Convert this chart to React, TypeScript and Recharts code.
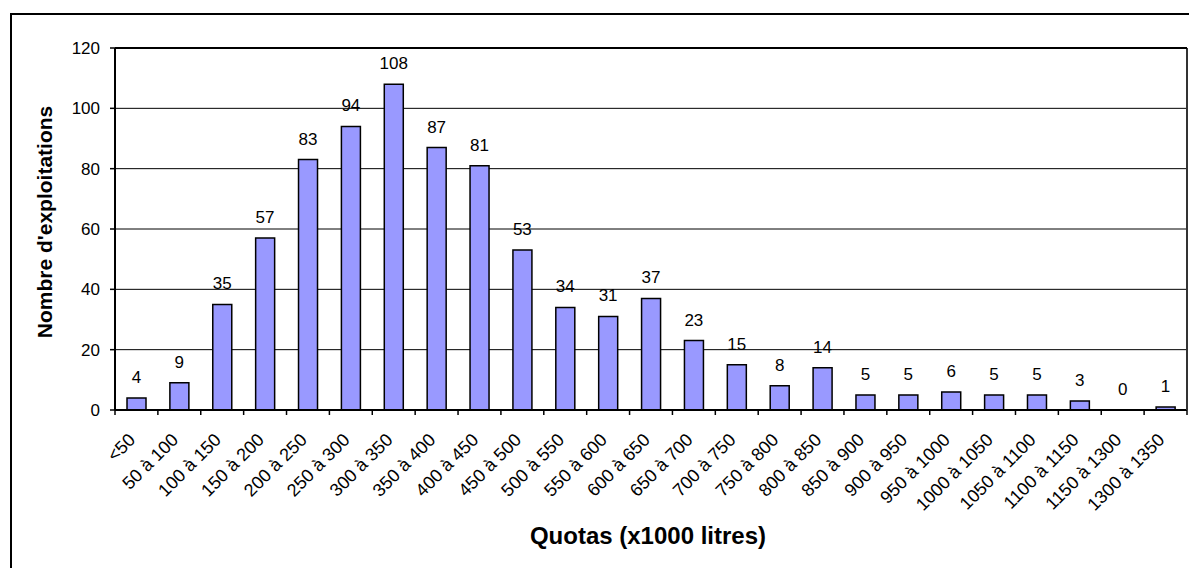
import { ComposedChart, Bar, Line, XAxis, YAxis, CartesianGrid, LabelList } from 'recharts';

const categories = [
  '<50', '50 à 100', '100 à 150', '150 à 200', '200 à 250', '250 à 300', '300 à 350',
  '350 à 400', '400 à 450', '450 à 500', '500 à 550', '550 à 600', '600 à 650', '650 à 700',
  '700 à 750', '750 à 800', '800 à 850', '850 à 900', '900 à 950', '950 à 1000',
  '1000 à 1050', '1050 à 1100', '1100 à 1150', '1150 à 1300', '1300 à 1350',
];
const exploitations = [4, 9, 35, 57, 83, 94, 108, 87, 81, 53, 34, 31, 37, 23, 15, 8, 14, 5, 5, 6, 5, 5, 3, 0, 1];
const yTicks = [0, 20, 40, 60, 80, 100, 120];

const data = categories.map((c, i) => ({ cat: c, n: exploitations[i] }));

const W = 1189;
const H = 568;
const FONT = '"Liberation Sans", Arial, sans-serif';
// plot area spans 115..1187 horizontally, baseline at 410
const BAND = (1187 - 115) / categories.length;

// rotated category label + tick mark at the left boundary of each band
const CatTick = (props: any) => {
  const { x, y, payload, index } = props;
  const left = x - BAND / 2;
  const last = index === categories.length - 1;
  return (
    <g>
      <line x1={left} y1={410} x2={left} y2={415} stroke="#000" strokeWidth={1.5} />
      {last && <line x1={x + BAND / 2} y1={410} x2={x + BAND / 2} y2={415} stroke="#000" strokeWidth={1.5} />}
      <text
        x={x}
        y={y}
        textAnchor="end"
        transform={`rotate(-45, ${x}, ${y})`}
        fontSize={18}
        fontFamily={FONT}
        fill="#000"
      >
        {payload.value}
      </text>
    </g>
  );
};

export default function App() {
  return (
    <div style={{ position: 'fixed', left: 0, top: 0, width: W, height: H, background: '#fff', overflow: 'hidden' }}>
      <div
        style={{
          position: 'absolute', left: 10, top: 13, width: W, height: H,
          border: '2px solid #000', boxSizing: 'border-box',
        }}
      />
      <div style={{ position: 'absolute', left: 0, top: 0 }}>
        <ComposedChart
          width={W}
          height={H}
          data={data}
          margin={{ top: 48, right: 1, left: 55, bottom: 38 }}
          barCategoryGap="28%"
          style={{ fontFamily: FONT }}
        >
          <CartesianGrid vertical={false} stroke="#000" strokeWidth={1} />
          <XAxis
            dataKey="cat"
            interval={0}
            height={120}
            tickLine={false}
            axisLine={{ stroke: '#000', strokeWidth: 2 }}
            tick={<CatTick />}
            tickMargin={25}
          />
          <YAxis
            domain={[0, 120]}
            ticks={yTicks}
            width={60}
            tickSize={5}
            tickMargin={10}
            tickLine={{ stroke: '#000', strokeWidth: 1.5 }}
            axisLine={{ stroke: '#000', strokeWidth: 2 }}
            tick={{ fill: '#000', fontSize: 17, fontFamily: FONT }}
          />
          <YAxis
            yAxisId="right"
            orientation="right"
            width={1}
            tick={false}
            tickLine={false}
            axisLine={{ stroke: '#333', strokeWidth: 2 }}
          />
          <Bar dataKey="n" fill="#9999FF" stroke="#000" strokeWidth={1.5} isAnimationActive={false} />
          {/* invisible series carrying the value labels, so that the 0 is shown too */}
          <Line
            dataKey="n"
            stroke="none"
            dot={false}
            activeDot={false}
            legendType="none"
            isAnimationActive={false}
          >
            <LabelList dataKey="n" position="top" offset={15} fill="#000" fontSize={17} fontFamily={FONT} />
          </Line>
        </ComposedChart>
      </div>
      <svg width={W} height={H} style={{ position: 'absolute', left: 0, top: 0, pointerEvents: 'none' }}>
        <line x1={115} y1={48} x2={1187} y2={48} stroke="#000" strokeWidth={2} />
        <text
          x={52}
          y={222}
          textAnchor="middle"
          transform="rotate(-90, 52, 222)"
          fontSize={21}
          fontWeight="bold"
          fontFamily={FONT}
        >
          Nombre d'exploitations
        </text>
        <text x={648} y={544} textAnchor="middle" fontSize={24} fontWeight="bold" fontFamily={FONT}>
          Quotas (x1000 litres)
        </text>
      </svg>
    </div>
  );
}
